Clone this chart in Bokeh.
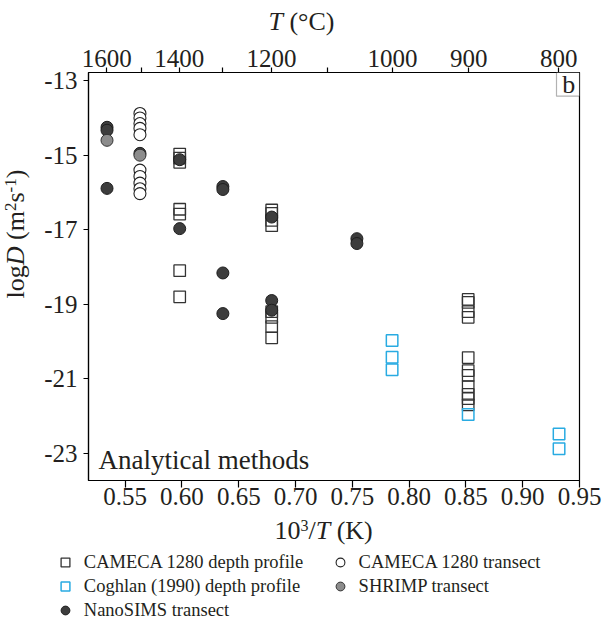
import math
from bokeh.plotting import figure
from bokeh.layouts import column, row
from bokeh.models import (Range1d, LinearAxis, FixedTicker, CustomJSTickFormatter,
                          PrintfTickFormatter, Label, BoxAnnotation, Legend, LegendItem)
from bokeh.embed import file_html
from bokeh.resources import INLINE

# ---------------- data (x = 10^3/T in K^-1, y = logD) ----------------
cameca_depth_x = [0.598, 0.598, 0.598, 0.598, 0.598, 0.598, 0.598,
                  0.679, 0.679, 0.679, 0.679, 0.679, 0.679, 0.679, 0.679,
                  0.852, 0.852, 0.852, 0.852, 0.852, 0.852, 0.852, 0.852, 0.852, 0.852, 0.852]
cameca_depth_y = [-14.97, -15.08, -15.19, -16.45, -16.58, -18.1, -18.8,
                  -16.47, -16.56, -16.75, -16.89, -19.2, -19.35, -19.6, -19.9,
                  -18.87, -18.95, -19.2, -19.35, -20.43, -20.78, -20.91, -21.21, -21.42, -21.53, -21.7]

cameca_tr_x = [0.563, 0.563, 0.563, 0.563, 0.563, 0.563, 0.563, 0.563, 0.563, 0.563]
cameca_tr_y = [-13.88, -14.0, -14.15, -14.28, -14.45, -15.4, -15.57, -15.75, -15.9, -16.03]

coghlan_x = [0.785, 0.785, 0.785, 0.852, 0.932, 0.932]
coghlan_y = [-19.97, -20.42, -20.76, -21.96, -22.48, -22.88]

shrimp_x = [0.534, 0.563]
shrimp_y = [-14.6, -15.0]

nano_x = [0.534, 0.534, 0.534, 0.563, 0.598, 0.598, 0.636, 0.636, 0.636, 0.636,
          0.679, 0.679, 0.679, 0.754, 0.754]
nano_y = [-14.25, -14.33, -15.89, -14.95, -15.12, -16.97, -15.84, -15.92, -18.16, -19.25,
          -16.66, -18.9, -19.16, -17.24, -17.37]

x_ticks = [0.55, 0.60, 0.65, 0.70, 0.75, 0.80, 0.85, 0.90, 0.95]
y_ticks = [-13, -15, -17, -19, -21, -23]
top_major_T = [1600, 1400, 1200, 1000, 900, 800]
top_minor_T = [1500, 1300, 1100]

legend_col1 = ["CAMECA 1280 depth profile", "Coghlan (1990) depth profile", "NanoSIMS transect"]
legend_col2 = ["CAMECA 1280 transect", "SHRIMP transect"]

FONT = "Liberation Serif"
TXT = "#231f20"
NB = "\u00a0"

STYLE_SQ = dict(marker="square", size=11.5, fill_color=None, line_color="#333333", line_width=1.3)
STYLE_BL = dict(marker="square", size=11.5, fill_color=None, line_color="#29abe2", line_width=1.5)
STYLE_OC = dict(marker="circle", size=12, fill_color="white", line_color="#222222", line_width=1.1)
STYLE_NA = dict(marker="circle", size=12, fill_color="#3d3d3d", line_color="#1e1e1e", line_width=1)
STYLE_SH = dict(marker="circle", size=12, fill_color="#8c8c8c", line_color="#333333", line_width=1)

# layout sizes
W = 602
H_TOP = 36
H_MID = 479
H_BOT = 622 - H_TOP - H_MID
W_LEFT = 32

# ---------------- main plot ----------------
p = figure(width=W - W_LEFT, height=H_MID,
           x_range=Range1d(0.5177, 0.95), y_range=Range1d(-23.73, -12.78),
           output_backend="svg", toolbar_location=None,
           min_border_left=56, min_border_right=23, min_border_top=36, min_border_bottom=35,
           background_fill_color="white", border_fill_color="white")
p.xgrid.visible = False
p.ygrid.visible = False
p.outline_line_color = "black"
p.outline_line_width = 1.2

def style_axis(ax, tick_out, standoff):
    ax.major_tick_out = tick_out
    ax.major_tick_in = 0
    ax.minor_tick_out = 0
    ax.minor_tick_in = 0
    ax.axis_line_color = "black"
    ax.axis_line_width = 1.2
    ax.major_tick_line_color = "black"
    ax.major_tick_line_width = 1.2
    ax.major_label_text_font = FONT
    ax.major_label_text_font_size = "25px"
    ax.major_label_text_color = TXT
    ax.major_label_standoff = standoff

xa = p.xaxis[0]
xa.ticker = FixedTicker(ticks=x_ticks)
xa.formatter = PrintfTickFormatter(format="%.2f")
style_axis(xa, 7, 0)

ya = p.yaxis[0]
ya.ticker = FixedTicker(ticks=y_ticks)
ya.formatter = CustomJSTickFormatter(code="return tick.toFixed(0);")
style_axis(ya, 5, 6)

top = LinearAxis(ticker=FixedTicker(ticks=[1000.0 / (t + 273.15) for t in top_major_T],
                                    minor_ticks=[1000.0 / (t + 273.15) for t in top_minor_T]),
                 formatter=CustomJSTickFormatter(code="return Math.round(1000/tick - 273.15).toFixed(0);"))
style_axis(top, 5, 1)
top.minor_tick_out = 5
top.minor_tick_line_color = "black"
top.minor_tick_line_width = 1.2
p.add_layout(top, "above")

p.scatter(cameca_depth_x, cameca_depth_y, **STYLE_SQ)
p.scatter(coghlan_x, coghlan_y, **STYLE_BL)
p.scatter(cameca_tr_x, cameca_tr_y, **STYLE_OC)
p.scatter(nano_x, nano_y, **STYLE_NA)
p.scatter(shrimp_x, shrimp_y, **STYLE_SH)

BL = 0.36  # baseline correction (fraction of font size)

p.add_layout(Label(x=10, y=11 + BL * 27, x_units="screen", y_units="screen",
                   text="Analytical methods",
                   text_font=FONT, text_font_size="27px", text_color=TXT,
                   text_align="left", text_baseline="alphabetic"))
p.add_layout(BoxAnnotation(left=468, right=491, top=408, bottom=384.3,
                           left_units="screen", right_units="screen",
                           top_units="screen", bottom_units="screen",
                           fill_color="white", fill_alpha=1.0,
                           line_color="black", line_width=1.2))
p.add_layout(Label(x=480.3, y=386.7 + BL * 26, x_units="screen", y_units="screen", text="b",
                   text_font=FONT, text_font_size="26px", text_color=TXT,
                   text_align="center", text_baseline="alphabetic"))

# ---------------- helper panels for rich-text titles and legend ----------------
def blank(width, height):
    f = figure(width=width, height=height, x_range=Range1d(0, 1), y_range=Range1d(0, 1),
               output_backend="svg", toolbar_location=None, min_border=0,
               x_axis_location=None, y_axis_location=None,
               background_fill_color="white", border_fill_color="white")
    f.outline_line_color = None
    f.grid.visible = False
    return f

EM = {'l': .278, 'o': .5, 'g': .5, 'D': .722, ' ': .25, NB: .25, '(': .333, 'm': .778,
      '2': .5, 's': .389, '-': .333, '1': .5, ')': .333, '0': .5, '3': .5, '/': .278,
      'T': .556, 'K': .722, '°': .4, 'C': .667}

def rich(f, pieces, x0, y0, vertical=False):
    pos = 0.0
    for text, size, style, rise in pieces:
        w = sum(EM[c] for c in text) * size
        kw = dict(x_units="screen", y_units="screen", text=text,
                  text_font=FONT, text_font_size=f"{size}px", text_font_style=style,
                  text_color=TXT, text_align="left", text_baseline="alphabetic")
        if vertical:
            lab = Label(x=x0 - rise - BL * size, y=y0 + pos, angle=math.pi / 2, **kw)
        else:
            lab = Label(x=x0 + pos, y=y0 + rise + BL * size, **kw)
        f.add_layout(lab)
        pos += w

# top title  T (°C)
p_top = blank(W, H_TOP)
rich(p_top, [("T", 26, "italic", 0), (NB + "(°C)", 26, "normal", 0)], 268, H_TOP - 30)

# left title  logD (m2 s-1)
p_left = blank(W_LEFT, H_MID)
rich(p_left, [("log", 26, "normal", 0), ("D", 26, "italic", 0), (NB + "(m", 26, "normal", 0),
              ("2", 17, "normal", 8), ("s", 26, "normal", 0), ("-1", 17, "normal", 8),
              (")", 26, "normal", 0)], 24, (H_TOP + H_MID) - 333, vertical=True)

# bottom title and legend
p_bot = blank(W, H_BOT)
rich(p_bot, [("10", 26, "normal", 0), ("3", 16, "normal", 8), ("/", 26, "normal", 0),
             ("T", 26, "italic", 0), (NB + "(K)", 26, "normal", 0)], 274, 622 - 539)

def swatch(xs, ys, style):
    # one hidden point of the series, only so that the legend can draw its marker
    return p_bot.scatter(xs[:1], ys[:1], visible=False, **style)

sw_sq = swatch(cameca_depth_x, cameca_depth_y, STYLE_SQ)
sw_bl = swatch(coghlan_x, coghlan_y, STYLE_BL)
sw_na = swatch(nano_x, nano_y, STYLE_NA)
sw_oc = swatch(cameca_tr_x, cameca_tr_y, STYLE_OC)
sw_sh = swatch(shrimp_x, shrimp_y, STYLE_SH)

def make_legend(labels, rends, loc):
    return Legend(items=[LegendItem(label=l, renderers=[r]) for l, r in zip(labels, rends)],
                  location=loc, orientation="vertical",
                  glyph_width=22, glyph_height=24, label_height=24, spacing=0,
                  padding=0, margin=0, border_line_color=None, background_fill_alpha=0,
                  inactive_fill_alpha=0,
                  label_text_font=FONT, label_text_font_size="18.5px",
                  label_text_color=TXT, label_standoff=8)

p_bot.add_layout(make_legend(legend_col1, [sw_sq, sw_bl, sw_na], (53.8, 622 - 622)))
p_bot.add_layout(make_legend(legend_col2, [sw_oc, sw_sh], (328.6, 622 - 598)))

layout = column(p_top, row(p_left, p), p_bot)
open("out.html", "w").write(file_html(layout, INLINE))
